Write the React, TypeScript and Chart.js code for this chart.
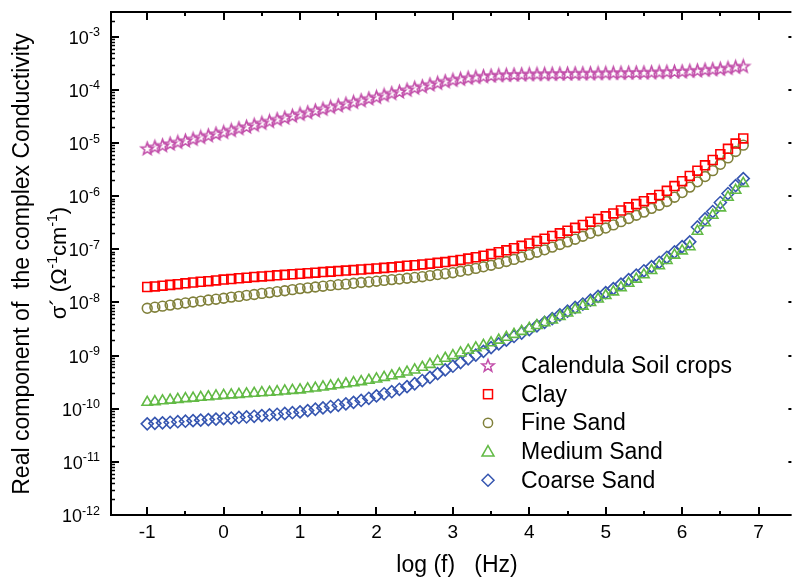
import { useEffect, useRef } from 'react';
import { Chart, registerables } from 'chart.js';

Chart.register(...registerables);

const logF = [
  -1.0, -0.9, -0.8, -0.7, -0.6, -0.5, -0.4, -0.3, -0.2, -0.1,
  0.0, 0.1, 0.2, 0.3, 0.4, 0.5, 0.6, 0.7, 0.8, 0.9,
  1.0, 1.1, 1.2, 1.3, 1.4, 1.5, 1.6, 1.7, 1.8, 1.9,
  2.0, 2.1, 2.2, 2.3, 2.4, 2.5, 2.6, 2.7, 2.8, 2.9,
  3.0, 3.1, 3.2, 3.3, 3.4, 3.5, 3.6, 3.7, 3.8, 3.9,
  4.0, 4.1, 4.2, 4.3, 4.4, 4.5, 4.6, 4.7, 4.8, 4.9,
  5.0, 5.1, 5.2, 5.3, 5.4, 5.5, 5.6, 5.7, 5.8, 5.9,
  6.0, 6.1, 6.2, 6.3, 6.4, 6.5, 6.6, 6.7, 6.8,
];

const calendula = [
  7.94e-6, 8.51e-6, 9.12e-6, 9.77e-6, 1.05e-5, 1.12e-5, 1.20e-5, 1.30e-5, 1.40e-5, 1.51e-5,
  1.62e-5, 1.76e-5, 1.91e-5, 2.04e-5, 2.21e-5, 2.40e-5, 2.60e-5, 2.82e-5, 3.02e-5, 3.27e-5,
  3.55e-5, 3.80e-5, 4.12e-5, 4.42e-5, 4.79e-5, 5.13e-5, 5.50e-5, 5.96e-5, 6.38e-5, 6.92e-5,
  7.41e-5, 8.04e-5, 8.71e-5, 9.33e-5, 1.01e-4, 1.10e-4, 1.17e-4, 1.27e-4, 1.36e-4, 1.46e-4,
  1.55e-4, 1.62e-4, 1.70e-4, 1.76e-4, 1.82e-4, 1.86e-4, 1.91e-4, 1.93e-4, 1.95e-4, 1.97e-4,
  1.99e-4, 2.00e-4, 2.01e-4, 2.02e-4, 2.03e-4, 2.04e-4, 2.05e-4, 2.06e-4, 2.07e-4, 2.08e-4,
  2.09e-4, 2.10e-4, 2.11e-4, 2.12e-4, 2.13e-4, 2.14e-4, 2.16e-4, 2.18e-4, 2.20e-4, 2.22e-4,
  2.24e-4, 2.29e-4, 2.34e-4, 2.40e-4, 2.46e-4, 2.51e-4, 2.60e-4, 2.72e-4, 2.82e-4,
];

const clay = [
  1.95e-8, 2.00e-8, 2.07e-8, 2.14e-8, 2.21e-8, 2.29e-8, 2.37e-8, 2.45e-8, 2.51e-8, 2.60e-8,
  2.69e-8, 2.75e-8, 2.85e-8, 2.92e-8, 3.02e-8, 3.09e-8, 3.16e-8, 3.24e-8, 3.31e-8, 3.39e-8,
  3.47e-8, 3.55e-8, 3.63e-8, 3.72e-8, 3.80e-8, 3.89e-8, 3.98e-8, 4.07e-8, 4.17e-8, 4.27e-8,
  4.37e-8, 4.47e-8, 4.57e-8, 4.73e-8, 4.90e-8, 5.01e-8, 5.19e-8, 5.37e-8, 5.56e-8, 5.75e-8,
  6.03e-8, 6.31e-8, 6.68e-8, 7.08e-8, 7.59e-8, 8.13e-8, 8.81e-8, 9.55e-8, 1.05e-7, 1.16e-7,
  1.29e-7, 1.43e-7, 1.58e-7, 1.78e-7, 2.00e-7, 2.24e-7, 2.54e-7, 2.88e-7, 3.31e-7, 3.72e-7,
  4.17e-7, 4.73e-7, 5.37e-7, 6.17e-7, 7.08e-7, 8.04e-7, 9.12e-7, 1.05e-6, 1.26e-6, 1.55e-6,
  1.91e-6, 2.40e-6, 3.02e-6, 3.80e-6, 4.79e-6, 6.17e-6, 7.76e-6, 9.77e-6, 1.22e-5,
];

const fineSand = [
  7.76e-9, 8.13e-9, 8.51e-9, 8.91e-9, 9.33e-9, 9.77e-9, 1.02e-8, 1.06e-8, 1.11e-8, 1.15e-8,
  1.20e-8, 1.26e-8, 1.30e-8, 1.36e-8, 1.41e-8, 1.48e-8, 1.53e-8, 1.60e-8, 1.66e-8, 1.74e-8,
  1.82e-8, 1.88e-8, 1.95e-8, 2.02e-8, 2.09e-8, 2.16e-8, 2.21e-8, 2.29e-8, 2.37e-8, 2.43e-8,
  2.51e-8, 2.60e-8, 2.69e-8, 2.75e-8, 2.85e-8, 2.95e-8, 3.05e-8, 3.20e-8, 3.35e-8, 3.47e-8,
  3.63e-8, 3.85e-8, 4.07e-8, 4.37e-8, 4.68e-8, 5.01e-8, 5.43e-8, 5.89e-8, 6.46e-8, 7.16e-8,
  7.94e-8, 8.81e-8, 9.77e-8, 1.10e-7, 1.23e-7, 1.38e-7, 1.55e-7, 1.76e-7, 2.00e-7, 2.24e-7,
  2.51e-7, 2.88e-7, 3.31e-7, 3.80e-7, 4.37e-7, 5.01e-7, 5.89e-7, 6.76e-7, 7.94e-7, 9.55e-7,
  1.17e-6, 1.48e-6, 1.86e-6, 2.34e-6, 3.02e-6, 3.98e-6, 5.25e-6, 6.92e-6, 9.12e-6,
];

const mediumSand = [
  1.32e-10, 1.36e-10, 1.41e-10, 1.45e-10, 1.50e-10, 1.55e-10, 1.58e-10, 1.64e-10, 1.68e-10, 1.74e-10,
  1.78e-10, 1.82e-10, 1.86e-10, 1.91e-10, 1.95e-10, 2.00e-10, 2.04e-10, 2.09e-10, 2.16e-10, 2.21e-10,
  2.26e-10, 2.37e-10, 2.45e-10, 2.57e-10, 2.69e-10, 2.82e-10, 2.95e-10, 3.09e-10, 3.24e-10, 3.43e-10,
  3.63e-10, 3.89e-10, 4.17e-10, 4.52e-10, 4.90e-10, 5.37e-10, 6.03e-10, 6.84e-10, 7.76e-10, 8.91e-10,
  1.00e-9, 1.12e-9, 1.26e-9, 1.40e-9, 1.55e-9, 1.74e-9, 1.95e-9, 2.21e-9, 2.51e-9, 2.85e-9,
  3.24e-9, 3.67e-9, 4.17e-9, 4.68e-9, 5.43e-9, 6.31e-9, 7.33e-9, 8.51e-9, 1.00e-8, 1.16e-8,
  1.35e-8, 1.58e-8, 1.90e-8, 2.29e-8, 2.75e-8, 3.31e-8, 3.98e-8, 4.90e-8, 6.17e-8, 7.76e-8,
  9.33e-8, 1.12e-7, 2.19e-7, 3.16e-7, 4.37e-7, 6.03e-7, 9.55e-7, 1.29e-6, 1.74e-6,
];

const coarseSand = [
  5.19e-11, 5.31e-11, 5.43e-11, 5.56e-11, 5.69e-11, 5.82e-11, 5.96e-11, 6.10e-11, 6.24e-11, 6.38e-11,
  6.53e-11, 6.68e-11, 6.84e-11, 7.00e-11, 7.20e-11, 7.40e-11, 7.62e-11, 7.85e-11, 8.13e-11, 8.41e-11,
  8.71e-11, 9.23e-11, 9.77e-11, 1.035e-10, 1.10e-10, 1.16e-10, 1.23e-10, 1.32e-10, 1.43e-10, 1.57e-10,
  1.74e-10, 1.91e-10, 2.09e-10, 2.32e-10, 2.60e-10, 2.95e-10, 3.39e-10, 3.89e-10, 4.57e-10, 5.37e-10,
  6.31e-10, 7.41e-10, 8.71e-10, 1.02e-9, 1.20e-9, 1.41e-9, 1.66e-9, 1.95e-9, 2.29e-9, 2.66e-9,
  3.09e-9, 3.63e-9, 4.22e-9, 4.95e-9, 5.82e-9, 6.84e-9, 8.04e-9, 9.33e-9, 1.10e-8, 1.30e-8,
  1.53e-8, 1.82e-8, 2.21e-8, 2.69e-8, 3.27e-8, 3.94e-8, 4.73e-8, 5.69e-8, 7.08e-8, 8.91e-8,
  1.12e-7, 1.38e-7, 2.63e-7, 3.72e-7, 5.13e-7, 7.59e-7, 1.12e-6, 1.58e-6, 2.14e-6,
];

const seriesNames = ['Calendula Soil crops', 'Clay', 'Fine Sand', 'Medium Sand', 'Coarse Sand'];
const seriesColors = ['#C24FAA', '#FF0000', '#80803A', '#62BA45', '#3656B0'];
const xTickValues = [-1, 0, 1, 2, 3, 4, 5, 6, 7];
const xMinorValues = [-0.5, 0.5, 1.5, 2.5, 3.5, 4.5, 5.5, 6.5];
const yExponents = [-3, -4, -5, -6, -7, -8, -9, -10, -11, -12];

const FONT = '"Liberation Sans", Arial, Helvetica, sans-serif';

function starPath(ctx: CanvasRenderingContext2D, cx: number, cy: number, R: number) {
  ctx.beginPath();
  for (let i = 0; i < 10; i++) {
    const r = i % 2 === 0 ? R : R * 0.42;
    const a = -Math.PI / 2 + (i * Math.PI) / 5;
    const px = cx + r * Math.cos(a);
    const py = cy + r * Math.sin(a);
    if (i === 0) ctx.moveTo(px, py);
    else ctx.lineTo(px, py);
  }
  ctx.closePath();
}

function makeStar(R: number, color: string) {
  const c = document.createElement('canvas');
  const s = Math.ceil(2 * R + 4);
  c.width = s;
  c.height = s;
  const ctx = c.getContext('2d')!;
  starPath(ctx, s / 2, s / 2 + R * 0.1, R);
  ctx.strokeStyle = color;
  ctx.lineWidth = 1.6;
  ctx.lineJoin = 'miter';
  ctx.stroke();
  return c;
}

function drawLegendMarker(ctx: CanvasRenderingContext2D, kind: number, x: number, y: number, color: string) {
  ctx.save();
  ctx.strokeStyle = color;
  ctx.lineWidth = 1.5;
  if (kind === 0) {
    starPath(ctx, x, y + 0.5, 6.5);
    ctx.stroke();
  } else if (kind === 1) {
    ctx.strokeRect(x - 4.5, y - 4.5, 9, 9);
  } else if (kind === 2) {
    ctx.beginPath();
    ctx.arc(x, y, 4.6, 0, Math.PI * 2);
    ctx.stroke();
  } else if (kind === 3) {
    ctx.beginPath();
    ctx.moveTo(x, y - 6);
    ctx.lineTo(x + 6, y + 4.5);
    ctx.lineTo(x - 6, y + 4.5);
    ctx.closePath();
    ctx.stroke();
  } else {
    ctx.beginPath();
    ctx.moveTo(x, y - 6);
    ctx.lineTo(x + 6, y);
    ctx.lineTo(x, y + 6);
    ctx.lineTo(x - 6, y);
    ctx.closePath();
    ctx.stroke();
  }
  ctx.restore();
}

const decorPlugin = {
  id: 'decor',
  afterDatasetsDraw(chart: any) {
    const { ctx, chartArea: a, scales } = chart;
    const xs = scales.x;
    const ys = scales.y;
    ctx.save();
    ctx.strokeStyle = '#000';
    ctx.fillStyle = '#000';
    ctx.lineWidth = 2;
    ctx.lineCap = 'butt';
    ctx.beginPath();
    ctx.moveTo(a.left, a.top - 1);
    ctx.lineTo(a.left, a.bottom + 1);
    ctx.moveTo(a.left - 1, a.bottom);
    ctx.lineTo(a.right, a.bottom);
    ctx.moveTo(a.left - 1, a.top);
    ctx.lineTo(a.right, a.top);
    ctx.stroke();

    ctx.beginPath();
    for (const v of xTickValues) {
      const px = Math.round(xs.getPixelForValue(v));
      ctx.moveTo(px, a.bottom);
      ctx.lineTo(px, a.bottom - 8);
      ctx.moveTo(px, a.top);
      ctx.lineTo(px, a.top + 8);
    }
    for (const v of xMinorValues) {
      const px = Math.round(xs.getPixelForValue(v));
      ctx.moveTo(px, a.bottom);
      ctx.lineTo(px, a.bottom - 4);
      ctx.moveTo(px, a.top);
      ctx.lineTo(px, a.top + 4);
    }
    ctx.stroke();

    ctx.beginPath();
    for (const e of yExponents) {
      const py = Math.round(ys.getPixelForValue(Math.pow(10, e)));
      ctx.moveTo(a.left, py);
      ctx.lineTo(a.left + 8, py);
      ctx.moveTo(a.right, py);
      ctx.lineTo(a.right - 3, py);
    }
    ctx.stroke();
    ctx.lineWidth = 1.6;
    ctx.beginPath();
    for (const e of yExponents) {
      for (let k = 2; k <= 9; k++) {
        const val = k * Math.pow(10, e);
        if (val > ys.max) continue;
        const py = Math.round(ys.getPixelForValue(val)) + 0.5;
        ctx.moveTo(a.left, py);
        ctx.lineTo(a.left + 4, py);
      }
    }
    ctx.stroke();

    ctx.font = `19px ${FONT}`;
    ctx.textAlign = 'center';
    ctx.textBaseline = 'middle';
    for (const v of xTickValues) {
      ctx.fillText(String(v), xs.getPixelForValue(v), 533);
    }

    ctx.textAlign = 'left';
    ctx.textBaseline = 'alphabetic';
    for (const e of yExponents) {
      const py = ys.getPixelForValue(Math.pow(10, e));
      ctx.font = `18px ${FONT}`;
      const wb = ctx.measureText('10').width;
      ctx.font = `12.5px ${FONT}`;
      const sup = String(e);
      const ws = ctx.measureText(sup).width;
      const x0 = 100 - wb - ws;
      ctx.font = `18px ${FONT}`;
      ctx.fillText('10', x0, py + 7);
      ctx.font = `12.5px ${FONT}`;
      ctx.fillText(sup, x0 + wb, py - 0.5);
    }

    ctx.font = `23px ${FONT}`;
    ctx.textAlign = 'center';
    ctx.textBaseline = 'middle';
    ctx.fillText('log (f)   (Hz)', 457, 566);

    ctx.save();
    ctx.translate(23, 264);
    ctx.rotate(-Math.PI / 2);
    ctx.font = `23px ${FONT}`;
    ctx.textAlign = 'center';
    ctx.textBaseline = 'middle';
    ctx.fillText('Real component of  the complex Conductivity', 0, 0);
    ctx.restore();

    ctx.save();
    ctx.translate(58, 263);
    ctx.rotate(-Math.PI / 2);
    ctx.textAlign = 'left';
    ctx.textBaseline = 'alphabetic';
    const segs: [string, boolean][] = [
      ['σ\u00B4 (Ω', false],
      ['-1', true],
      ['cm', false],
      ['-1', true],
      [')', false],
    ];
    let total = 0;
    const widths: number[] = [];
    for (const [t, s] of segs) {
      ctx.font = s ? `14px ${FONT}` : `22px ${FONT}`;
      const w = ctx.measureText(t).width;
      widths.push(w);
      total += w;
    }
    let cx = -total / 2;
    segs.forEach(([t, s], i) => {
      ctx.font = s ? `14px ${FONT}` : `22px ${FONT}`;
      ctx.fillText(t, cx, s ? -1 : 8);
      cx += widths[i];
    });
    ctx.restore();

    ctx.font = `23px ${FONT}`;
    ctx.textAlign = 'left';
    ctx.textBaseline = 'middle';
    seriesNames.forEach((name, i) => {
      const y = 365.5 + i * 28.7;
      drawLegendMarker(ctx, i, 488, y, seriesColors[i]);
      ctx.fillStyle = '#000';
      ctx.fillText(name, 521, y + 1);
    });

    ctx.restore();
  },
};

export default function App() {
  const ref = useRef<HTMLCanvasElement>(null);

  useEffect(() => {
    const canvas = ref.current;
    if (!canvas) return;
    const series = [calendula, clay, fineSand, mediumSand, coarseSand];
    const styles: any[] = [makeStar(6.5, seriesColors[0]), 'rect', 'circle', 'triangle', 'rectRot'];
    const radii = [7, 6.3, 4.9, 6, 6];
    const datasets = series.map((ys, i) => ({
      label: seriesNames[i],
      data: logF.map((x, j) => ({ x, y: ys[j] })),
      showLine: false,
      pointStyle: styles[i],
      pointRadius: radii[i],
      pointBorderColor: seriesColors[i],
      pointBackgroundColor: 'rgba(0,0,0,0)',
      pointBorderWidth: 1.6,
      borderColor: seriesColors[i],
      backgroundColor: 'rgba(0,0,0,0)',
    }));

    const chart = new Chart(canvas, {
      type: 'scatter',
      data: { datasets },
      options: {
        responsive: false,
        animation: false,
        events: [],
        layout: { padding: { left: 111, top: 12, right: 0, bottom: 64 } },
        plugins: {
          legend: { display: false },
          title: { display: false },
          tooltip: { enabled: false },
        },
        scales: {
          x: { type: 'linear', min: -1.474, max: 7.43, display: false },
          y: { type: 'logarithmic', min: 1e-12, max: 2.92e-3, display: false },
        },
      },
      plugins: [decorPlugin],
    });
    return () => chart.destroy();
  }, []);

  return (
    <canvas
      ref={ref}
      width={800}
      height={579}
      style={{ position: 'fixed', left: 0, top: 0, width: 800, height: 579, background: '#fff' }}
    />
  );
}
